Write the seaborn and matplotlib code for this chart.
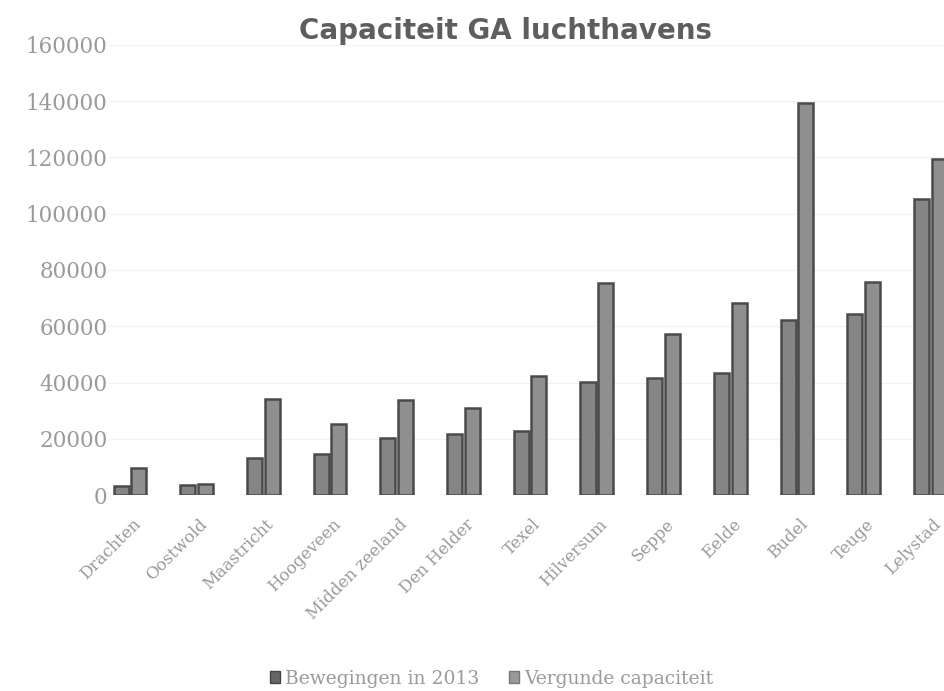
import matplotlib
matplotlib.use("Agg")
import matplotlib.pyplot as plt
import matplotlib.transforms as mtransforms
from matplotlib.patches import Patch
import seaborn as sns
import pandas as pd

categories = ["Drachten", "Oostwold", "Maastricht", "Hoogeveen", "Midden zeeland",
              "Den Helder", "Texel", "Hilversum", "Seppe", "Eelde", "Budel", "Teuge", "Lelystad"]
bewegingen_2013 = [3200, 3500, 13100, 14600, 20200, 21700, 22700, 40100, 41500, 43300, 62100, 64300, 105400]
vergunde_capaciteit = [9600, 4000, 34000, 25200, 33700, 30900, 42200, 75300, 57200, 68200, 139200, 75600, 119600]
series_names = ["Bewegingen in 2013", "Vergunde capaciteit"]
y_ticks = [0, 20000, 40000, 60000, 80000, 100000, 120000, 140000, 160000]

df = pd.DataFrame({
    "Luchthaven": categories * 2,
    "Serie": [series_names[0]] * len(categories) + [series_names[1]] * len(categories),
    "Waarde": bewegingen_2013 + vergunde_capaciteit,
})

sns.set_theme(style="white")
plt.rcParams['font.family'] = ['DejaVu Serif']

fig = plt.figure(figsize=(9.45, 6.91), dpi=100)
ax = fig.add_axes([0.1153, 0.2836, 0.8847, 0.6514])

palette = {series_names[0]: "#858585", series_names[1]: "#8f8f8f"}
sns.barplot(data=df, x="Luchthaven", y="Waarde", hue="Serie", palette=palette,
            width=0.53, gap=0.15, edgecolor="#4a4a4a", linewidth=1.8,
            legend=False, ax=ax, zorder=3)

ax.set_ylim(0, 160000)
ax.set_xlim(-0.315, 12.22)
ax.set_yticks(y_ticks)
ax.set_yticklabels([str(v) for v in y_ticks], fontsize=15.5, color="#9a9a9a")
ax.yaxis.grid(True, color="#f2f2f2", linewidth=1, zorder=0)
ax.xaxis.grid(False)
for s in ax.spines.values():
    s.set_visible(False)
ax.tick_params(axis="y", length=0, pad=1)
ax.tick_params(axis="x", length=0, pad=15)
ax.set_xlabel("")
ax.set_ylabel("")

offset = mtransforms.ScaledTranslation(0.02, 0, fig.dpi_scale_trans)
ax.set_xticks(range(len(categories)))
ax.set_xticklabels(categories, rotation=45, ha="right", rotation_mode="anchor",
                   fontsize=12, color="#9a9a9a")
for lbl in ax.get_xticklabels():
    lbl.set_transform(lbl.get_transform() + offset)

fig.text(0.535, 0.955, "Capaciteit GA luchthavens", ha="center", va="center",
         fontsize=20, fontweight="heavy", color="#5e5e5e", family="DejaVu Sans")

handles = [Patch(facecolor="#666666", edgecolor="#444444", label=series_names[0]),
           Patch(facecolor="#999999", edgecolor="#777777", label=series_names[1])]
leg = fig.legend(handles=handles, loc="center", bbox_to_anchor=(0.52, 0.018),
                 ncol=2, frameon=False, fontsize=13.5, handlelength=0.55,
                 handleheight=0.55, handletextpad=0.25, columnspacing=1.6)
for t in leg.get_texts():
    t.set_color("#9a9a9a")

fig.savefig("out.png", dpi=100)
